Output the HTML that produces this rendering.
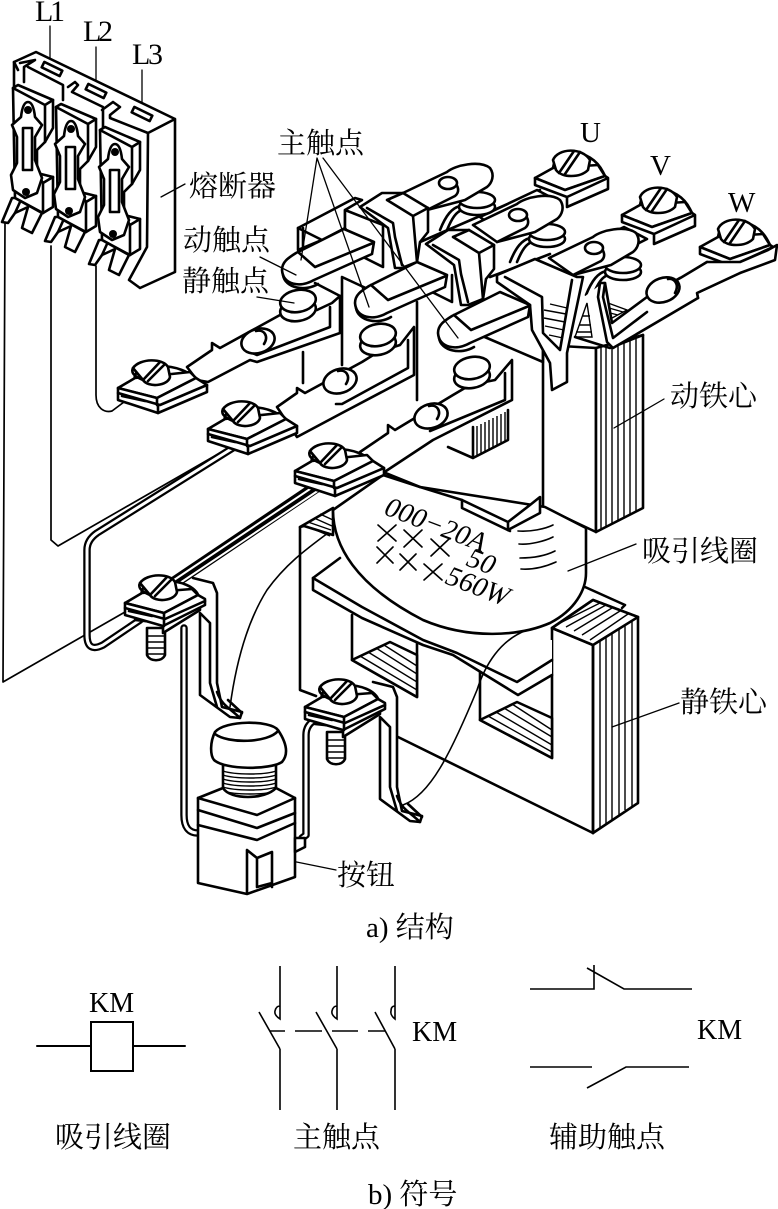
<!DOCTYPE html>
<html><head><meta charset="utf-8"><style>
html,body{margin:0;padding:0;background:#fff}
svg{display:block}
text{font-family:"Liberation Serif","Noto Serif CJK SC",serif;fill:#000}
.c{font-size:29px}
.o{fill:#fff;stroke:#000;stroke-width:2.6;stroke-linejoin:round;stroke-linecap:round}
.n{fill:none;stroke:#000;stroke-width:2.6;stroke-linejoin:round;stroke-linecap:round}
.t{fill:none;stroke:#000;stroke-width:1.3;stroke-linecap:round}
.h{fill:none;stroke:#000;stroke-width:1.4}
</style></head><body>
<svg width="778" height="1209" viewBox="0 0 778 1209" xmlns="http://www.w3.org/2000/svg">
<defs>
<g id="fuse">
<path class="o" d="M13 88L18 85L53 100V128L45 142L37 150V173L53 177V207L43 213L15 198Z"/>
<path class="n" d="M13 88L45 105L53 100M45 105V142M37 173L43 183L53 177M43 183V213"/>
<path class="o" d="M12 198L2 222L8 223L15 213L28 207L22 228L32 233L42 213L15 198Z"/>
<path class="n" d="M20 202L15 213"/>
<path class="o" d="M28 102C24 102 22 108 21 117L12 125L17 137V163L11 175L13 190L25 198L37 193L42 178L35 160V137L42 125L35 117C34 108 32 102 28 102Z" stroke-width="3"/>
<rect class="o" x="23" y="128" width="9" height="42"/>
<circle cx="28" cy="110" r="4"/><circle cx="26" cy="192" r="4"/>
</g>
<g id="screw">
<path class="o" d="M133 368C140 358 163 358 168 367L170 377C168 386 148 388 143 380Z"/>
<path class="n" d="M143 380C133 376 131 372 133 368M143 380L160 362M148 381L165 364" stroke-width="2.2"/>
</g>
<g id="term">
<path class="o" d="M135 380C130 362 185 360 197 382L160 400Z"/>
<path class="o" d="M118 388L135 378L190 372L196 378L157 398Z"/>
<path class="o" d="M118 388V400L158 413L207 392V385L196 378L157 398Z"/>
<path class="n" d="M118 393L160 405L207 385M157 398V405M158 405V413"/>
<path class="n" d="M122 396L145 401" stroke-width="3.5"/>
<use href="#screw"/>
</g>
<g id="term2">
<path class="o" d="M135 380C130 362 185 360 192 382L160 400Z"/>
<path class="o" d="M118 388L135 378L185 374L191 380L157 398Z"/>
<path class="o" d="M118 388V400L156 411L198 390V384L191 380L157 398Z"/>
<path class="n" d="M118 393L158 404L198 386M157 398V404M157 404V411"/>
<path class="n" d="M122 396L145 401" stroke-width="3.5"/>
<use href="#screw"/>
</g>
<g id="bump">
<ellipse class="o" cx="258" cy="341" rx="17" ry="12" transform="rotate(-18 258 341)"/>
<path class="n" d="M256 331C264 329 269 336 264 344" stroke-width="2"/>
</g>
<g id="stat">
<ellipse class="o" cx="298" cy="310" rx="18" ry="11" transform="rotate(-10 298 310)"/>
<ellipse class="o" cx="298" cy="301" rx="18" ry="11" transform="rotate(-10 298 301)"/>
</g>
<g id="arm">
<path class="o" d="M344 229L374 242L372 254L314 280C300 288 283 285 282 270C282 262 288 258 296 253Z"/>
<path class="n" d="M298 252L315 267L373 243"/>
<path class="n" d="M283 275C285 288 305 292 318 284"/>
</g>
<g id="outarm">
<path class="n" d="M440 230C446 215 452 208 460 206M447 230C452 218 456 212 462 210" stroke-width="2"/>
<ellipse class="o" cx="477" cy="207" rx="18" ry="8"/>
<ellipse class="o" cx="477" cy="200" rx="18" ry="8"/>
<path class="o" d="M403 193L447 172C455 165 480 160 490 168C495 175 492 183 487 187L465 200L450 204L427 210Z"/>
<path class="n" d="M427 210L455 196C460 192 458 187 456 184"/>
<ellipse class="o" cx="448" cy="183" rx="9" ry="6"/>
</g>
<g id="outterm">
<path class="o" d="M553 168C555 148 590 146 603 172L605 176L565 190Z"/>
<path class="o" d="M535 178L553 168L598 165L605 176L565 190Z"/>
<path class="o" d="M535 178V185L567 197V207L608 189V178L567 197L608 178L605 176L565 190Z"/>
<path class="o" d="M553 160C558 148 582 147 590 160L588 170C580 178 562 178 556 170Z"/>
<path class="n" d="M559 173L574 151M565 174L580 152" stroke-width="2"/>
</g>
<g id="stem"><path class="o" d="M480 217L537 190L560 202L500 232Z"/></g>
<g id="strap">
<path class="o" d="M360 207L382 193H391L403 193L428 208V232L420 242L417 262L402 268L395 268L388 228Z"/>
<path class="n" d="M367 208L393 223L395 237L402 265M387 200L413 216L417 262M413 216L428 208M387 200L403 193"/>
</g>
<g id="sw">
<path class="o" d="M193 578L213 583L217 593V683L222 707L242 712L240 718L230 717L200 695V613L210 623V683L217 707"/>
<path class="n" d="M217 692C222 706 230 708 240 718M228 700L242 713" stroke-width="2"/>
<path class="o" d="M147 628V655C150 662 162 662 165 655V628Z"/>
<path class="h" d="M148 636H164M148 642H164M148 648H164M148 654H164"/>
<path class="o" d="M135 620L163 623V633L200 610V600L163 623Z"/>
</g>
</defs>
<rect width="778" height="1209" fill="#fff"/>

<!-- leads -->
<path class="t" d="M50 26V68M96 47V90M142 70V115"/>
<path class="n" style="stroke-width:1.7" d="M5 222L3 682L125 612M51 246V540L58 546L232 446M96 266V395C96 408 104 413 112 411L124 402"/>

<!-- fuse block -->
<path d="M14 62L36 52L175 119V272L140 288L129 280L147 247L148 133L14 88Z" fill="#fff"/>
<path class="n" d="M14 88V62L36 52L175 119V272L140 288L129 280L147 247L148 133L175 119"/>
<path class="n" d="M14 62L18 70M20 63L35 60L24 67V82M28 67L63 85V100M68 87L75 82L78 85L72 92L103 107V150M102 110L113 102L120 107L110 115V118L148 133"/>
<rect class="o" x="42" y="66" width="20" height="6" transform="rotate(26 52 69)"/><rect class="o" x="86" y="88" width="20" height="6" transform="rotate(26 96 91)"/><rect class="o" x="132" y="111" width="20" height="6" transform="rotate(26 142 114)"/>
<use href="#fuse"/><use href="#fuse" x="43" y="19"/><use href="#fuse" x="87" y="42"/>
<path class="t" d="M161 197L185 184"/>

<!-- static iron core -->
<path class="n" d="M300 527V690L316 696M396 736L593 833M552 628V757"/>
<path class="n" d="M352 615V660L417 697V640"/>
<path class="o" d="M352 660L390 642L417 655V697Z"/>
<path class="h" d="M360 656L417 690M368 652L417 682M376 648L417 674M384 645L417 666"/>
<path class="n" d="M480 670V720L552 758"/>
<path class="o" d="M480 720L517 702L552 718V758Z"/>
<path class="h" d="M488 716L552 752M496 712L552 745M504 708L552 737M512 704L552 730"/>
<path class="o" d="M552 628L593 600L638 617V803L593 833V645Z"/>
<path class="o" d="M552 628L593 600L638 617L593 645Z"/>
<path class="h" d="M558 624L600 603M566 627L606 605M574 631L612 608M582 635L620 611M590 640L628 614"/>
<path class="h" d="M600 640V828M606 636V825M612 633V820M619 629V815M625 625V810M632 621V806"/>
<path class="n" d="M593 645V833"/>
<path class="n" d="M585 587L625 605L622 608"/>
<path class="o" d="M300 527L333 508V535L304 526Z"/>
<path class="h" d="M306 526L330 536M308 522L331 530M314 518L332 526M320 514L333 520"/>

<!-- flange -->
<path d="M313 578V590L362 618L423 645L453 655L518 695L552 675V640L518 640L345 558Z" fill="#fff"/>
<path class="n" d="M313 578V590L362 618L423 645L453 655L518 695L552 675"/>
<path class="n" d="M313 578L362 607L423 640L457 653L517 682L552 660M313 578L340 558"/>

<!-- moving core -->
<path class="o" d="M543 345V507L596 532V348Z"/>
<path class="o" d="M596 348L643 335V508L596 532Z"/>
<path class="h" d="M601 346V530M606 345V527M612 344V524M618 343V521M624 341V518M630 340V515M636 338V511"/>

<!-- coil -->
<path class="o" d="M333 510C333 545 355 585 423 620C470 640 520 636 550 623C575 610 586 590 586 573V528L545 507L420 487L383 475Z"/>
<path class="t" style="stroke-width:1.6" d="M518 531C530 532 545 529 553 525M519 544C530 545 545 541 553 537M520 558C535 558 547 555 555 551M521 569C535 570 547 566 556 562"/>
<text transform="translate(383,514) rotate(21)" font-size="28" font-style="italic">000−20A</text>
<g class="t" style="stroke-width:1.6"><path d="M378 525L396 541M396 525L378 541M404 530L422 547M422 530L404 547M431 539L449 556M449 539L431 556M377 547L393 563M393 547L377 563M400 554L416 570M416 554L400 570M424 564L442 580M442 564L424 580"/></g>
<text transform="translate(465,565) rotate(21)" font-size="28" font-style="italic">50</text>
<text transform="translate(444,583) rotate(21)" font-size="28" font-style="italic">560W</text>

<!-- top of coil housing -->
<path class="o" d="M383 472L420 487L462 500L508 522V530L540 513V497L530 505L508 522"/>
<path class="n" d="M462 500V508L510 531"/>
<path class="n" d="M448 447L473 458V427M473 458L508 440V410"/>
<path class="h" d="M477 426V456M481 424V454M485 422V452M489 420V450M493 418V448M497 416V446M501 414V444M505 412V442"/>
<path class="n" d="M303 352V383M342 277V365M417 302V400M342 277L370 290M315 283L342 297M480 335L543 362M543 360V345"/>

<!-- wires -->
<g fill="none" stroke-linecap="round" stroke-linejoin="round">
<path d="M236 446L97 533Q87 540 87 550V635Q87 653 103 645L140 620" stroke="#000" stroke-width="7.5"/>
<path d="M236 446L97 533Q87 540 87 550V635Q87 653 103 645L140 620" stroke="#fff" stroke-width="3"/>
<path d="M316 487L172 584" stroke="#000" stroke-width="12" stroke-linecap="butt"/>
<path d="M316 485L171 582" stroke="#fff" stroke-width="2"/>
<path d="M319 490L174 587" stroke="#fff" stroke-width="2"/>
<path d="M184 628V815Q184 833 198 833" stroke="#000" stroke-width="7.5"/>
<path d="M184 628V815Q184 833 198 833" stroke="#fff" stroke-width="3"/>
<path d="M315 720Q306 725 306 735V835L302 838" stroke="#000" stroke-width="7.5"/>
<path d="M315 720Q306 725 306 735V835L302 838" stroke="#fff" stroke-width="3"/>
</g>

<!-- bars and terminals -->
<path class="o" d="M187 367L212 350V343L220 348L280 315L317 310L332 303L340 296V333L257 362L250 360L208 382L197 380Z"/>
<path class="n" d="M250 352L257 355L330 327V307"/>
<path class="o" d="M277 407L297 393V388L305 393L362 362L378 352L400 345L414 327V375L342 413L297 437Z"/>
<path class="n" d="M336 404L342 404L408 368V340"/>
<path class="o" d="M360 452L388 433V425L395 430L453 395L470 385L495 380L512 360V400L433 440L383 473L372 478Z"/>
<path class="n" d="M430 431L505 400V373"/>
<use href="#bump"/><use href="#bump" x="82" y="40"/><use href="#bump" x="173" y="75"/>
<use href="#term"/><use href="#term" x="90" y="41"/><use href="#term" x="177" y="83"/>
<use href="#stat"/><use href="#stat" x="80" y="34"/><use href="#stat" x="174" y="67"/>

<!-- block behind arm 1 -->
<path class="o" d="M298 228L355 198L362 200L345 210V228L322 240L298 250Z"/>
<path class="n" d="M298 228L322 240M303 228V248"/>
<path class="o" d="M345 210L383 225V267L363 257L345 228Z"/>
<path class="n" d="M452 275V302L432 292"/>

<!-- outputs U V -->
<path class="n" d="M420 242L540 190M490 277L550 254"/>
<use href="#stem"/><use href="#outterm"/><use href="#outarm"/>
<use href="#stem" x="87" y="37"/><use href="#outterm" x="87" y="37"/><use href="#outarm" x="70" y="32"/>

<!-- third output arm -->
<use href="#outarm" x="146" y="65"/>
<!-- W terminal -->
<path d="M580 300L600 285L682 277L707 262L735 272L698 298L613 348Z" fill="#fff"/>
<path class="n" d="M682 278L707 262M647 297L680 278M698 298L697 293L740 273"/>
<use href="#outterm" x="165" y="69"/>

<!-- Y brackets -->
<path class="o" d="M497 275L535 259L577 277L583 277L567 353V382L552 390L550 363L532 330L530 305L497 282Z"/>
<path class="n" d="M505 277L542 297L543 333L560 350L572 280"/>
<path class="h" d="M550 304L567 308M544 310L566 314M544 318L565 322M545 326L564 330M549 335L563 338"/>
<path class="n" d="M575 337L610 348L643 335"/>
<path class="h" d="M587 303L592 337L575 337ZM579 325L591 325M576 332L592 332M582 316L590 316"/>
<path class="h" d="M608 303L627 310L612 318M609 308L623 312M610 313L618 315"/>

<!-- W bar -->
<path class="o" d="M600 283L598 297L607 342L613 348L698 298L697 293L740 273L775 260L777 245L768 250L740 262L707 262L682 277L647 297L612 323L605 283Z"/>
<path class="n" d="M605 283L603 297L613 338L647 312"/>
<ellipse class="o" cx="663" cy="290" rx="17" ry="12" transform="rotate(-20 663 290)"/>
<path class="n" d="M668 279C674 278 680 284 675 293" stroke-width="3"/>

<use href="#arm"/><use href="#strap"/>
<use href="#arm" x="73" y="33"/><use href="#strap" x="66" y="37"/>
<use href="#arm" x="156" y="63"/>

<!-- leaders -->
<path class="t" d="M317 158L301 260M317 158L369 307M323 158L458 338M260 257L296 275M257 297L294 303M664 399L614 428M636 544L568 571M679 703L612 727M336 870L262 855"/>
<path class="t" style="stroke-width:1.6" d="M230 707C235 670 245 625 267 590C285 565 305 550 328 533M403 805C430 795 450 755 477 690C485 665 500 640 527 630"/>

<!-- switches -->
<use href="#sw"/><use href="#term2" x="7" y="215"/>
<use href="#sw" x="180" y="104"/><use href="#term2" x="187" y="319"/>

<!-- button -->
<path class="o" d="M223 765H276V797C265 805 235 805 223 797Z"/>
<path class="h" d="M223 771C235 775 265 775 276 771M223 775C235 779 265 779 276 775M223 779C235 783 265 783 276 779M223 783C235 787 265 787 276 783M223 787C235 791 265 791 276 787M223 791C235 795 265 795 276 791"/>
<path class="o" d="M215 732C210 742 210 755 214 760C225 770 270 770 282 762C288 755 288 745 278 730C270 720 225 720 215 732Z"/>
<path class="n" d="M215 734C228 744 268 743 278 731"/>
<path class="o" d="M198 798L223 788C230 800 265 800 276 788L295 798V877L247 894L198 883Z"/>
<path class="n" d="M198 798L257 815L295 798M198 810L257 828L295 813M198 825L257 840L295 823"/>
<path class="n" d="M247 850V893M257 858V887M272 852V887M247 850L257 858L272 852M257 887L272 883"/>
<path class="o" d="M295 838H305V847L295 852Z"/>

<!-- labels -->
<text x="35" y="21" font-size="30" textLength="30">L1</text>
<text x="83" y="41" font-size="30" textLength="30">L2</text>
<text x="132" y="64" font-size="30" textLength="31">L3</text>
<text x="580" y="142" font-size="29">U</text>
<text x="650" y="175" font-size="29">V</text>
<text x="728" y="212" font-size="29">W</text>
<text class="c" x="189" y="196">熔断器</text>
<text class="c" x="277" y="153">主触点</text>
<text class="c" x="183" y="250">动触点</text>
<text class="c" x="182" y="291">静触点</text>
<text class="c" x="670" y="406">动铁心</text>
<text class="c" x="642" y="561">吸引线圈</text>
<text class="c" x="680" y="712">静铁心</text>
<text class="c" x="337" y="885">按钮</text>
<text class="c" x="366" y="937">a) 结构</text>

<!-- symbols -->
<text x="89" y="1012" font-size="28">KM</text>
<text x="412" y="1041" font-size="28">KM</text>
<text x="697" y="1039" font-size="28">KM</text>
<path class="n" style="stroke-width:2" d="M37 1046H91M133 1046H185"/>
<rect x="91" y="1022" width="42" height="49" fill="#fff" stroke="#000" stroke-width="2"/>
<g fill="none" stroke="#000" stroke-width="1.6">
<path d="M280 966V1019Q274 1015 275 1011Q276 1006 280 1006M280 1049V1110M259 1012L280 1049"/>
<path d="M337 966V1019Q331 1015 332 1011Q333 1006 337 1006M337 1049V1110M316 1012L337 1049"/>
<path d="M395 966V1019Q390 1015 391 1011Q391 1006 395 1006M395 1049V1110M375 1012L395 1049"/>
<path d="M270 1031H285M295 1031H322M332 1031H358M368 1031H385"/>
<path d="M530 989H594V965M587 968L624 989H692M530 1067H592M587 1088L626 1067H689"/>
</g>
<text class="c" x="55" y="1147">吸引线圈</text>
<text class="c" x="293" y="1147">主触点</text>
<text class="c" x="549" y="1147">辅助触点</text>
<text class="c" x="368" y="1204">b) 符号</text>
</svg>
</body></html>
